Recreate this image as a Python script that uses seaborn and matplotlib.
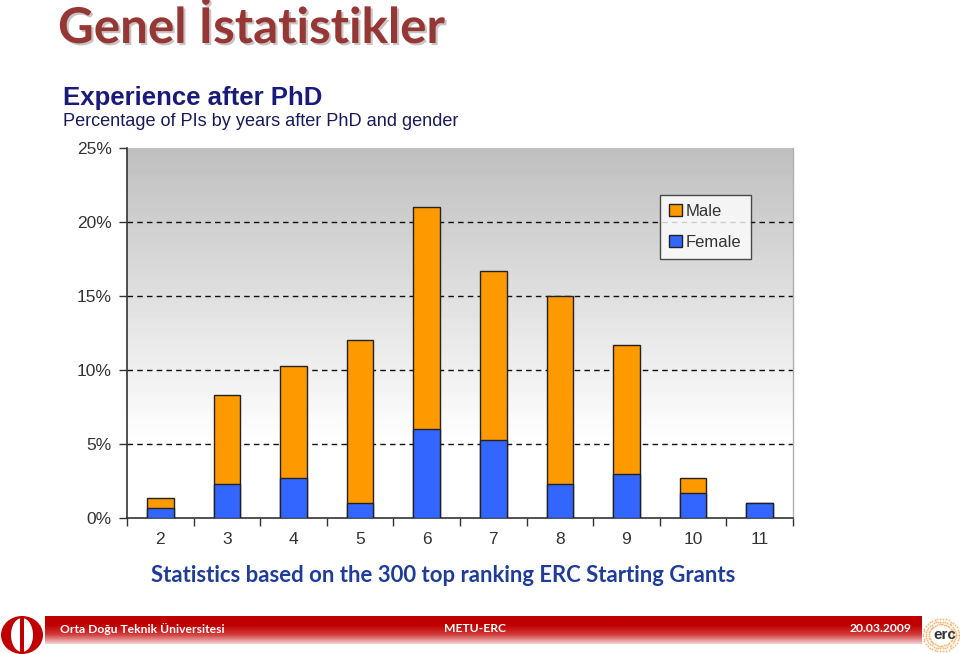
import numpy as np
import pandas as pd
import matplotlib
matplotlib.use("Agg")
import matplotlib.pyplot as plt
import seaborn as sns
from matplotlib.patches import Ellipse, Rectangle, Patch
from matplotlib.colors import LinearSegmentedColormap
import matplotlib.patheffects as pe

# ---- data ----
years = ["2", "3", "4", "5", "6", "7", "8", "9", "10", "11"]
female = [0.68, 2.3, 2.7, 1.0, 6.0, 5.3, 2.3, 3.0, 1.7, 1.0]
male = [0.67, 6.0, 7.6, 11.0, 15.0, 11.4, 12.7, 8.7, 1.0, 0.0]
yticks = [0, 5, 10, 15, 20, 25]
ytick_labels = ["0%", "5%", "10%", "15%", "20%", "25%"]

df = pd.DataFrame({"year": years, "Female": female, "Male": male})
df["Total"] = df["Female"] + df["Male"]

sns.set_theme(style="white")
plt.rcParams["font.family"] = ["Liberation Sans", "DejaVu Sans"]

W, H = 960, 654
fig = plt.figure(figsize=(W / 100, H / 100), dpi=100)

# background overlay axes in pixel coords
bg = fig.add_axes([0, 0, 1, 1])
bg.set_xlim(0, W)
bg.set_ylim(H, 0)
bg.axis("off")

# main chart axes
L, R, T, B = 127, 793, 148, 518
ax = fig.add_axes([L / W, (H - B) / H, (R - L) / W, (B - T) / H])

# gradient background
grad = np.concatenate([np.linspace(0.75, 1.0, 80), np.ones(20)])[::-1]
grad = grad.reshape(-1, 1)
ax.imshow(grad, cmap="gray", vmin=0, vmax=1, extent=[0, 1, 0, 1],
          transform=ax.transAxes, aspect="auto", zorder=0, origin="lower")

sns.barplot(data=df, x="year", y="Total", color="#FF9900", width=0.4,
            edgecolor="#222222", linewidth=1.0, saturation=1, ax=ax, zorder=3)
sns.barplot(data=df, x="year", y="Female", color="#3366FF", width=0.4,
            edgecolor="#222222", linewidth=1.0, saturation=1, ax=ax, zorder=4)

ax.set_xlim(-0.5, 9.5)
ax.set_ylim(0, 25)
ax.set_xlabel("")
ax.set_ylabel("")
ax.set_yticks(yticks)
ax.set_yticklabels(ytick_labels)
for y in yticks[1:-1]:
    ax.axhline(y, color="#111111", lw=1.0, ls=(0, (4, 3)), zorder=2)

ax.tick_params(axis="y", which="major", direction="out", length=6, width=1,
               color="#333333", labelsize=12.5, labelcolor="#333333", pad=5, left=True)
ax.tick_params(axis="x", which="major", length=0, labelsize=12.5,
               labelcolor="#333333", pad=10)
ax.set_xticks(np.arange(-0.5, 10.0, 1.0), minor=True)
ax.tick_params(axis="x", which="minor", direction="out", length=6, width=1,
               color="#333333", bottom=True)

for s in ["left", "bottom"]:
    ax.spines[s].set_color("#333333")
    ax.spines[s].set_linewidth(1.2)
ax.spines["top"].set_visible(False)
ax.spines["right"].set_color("#b0b0b0")
ax.spines["right"].set_linewidth(1.0)

leg = ax.legend(handles=[Patch(facecolor="#FF9900", edgecolor="#222222", label="Male"),
                         Patch(facecolor="#3366FF", edgecolor="#222222", label="Female")],
                loc="upper left", bbox_to_anchor=((660 - L) / (R - L), (B - 195) / (B - T)),
                borderaxespad=0, frameon=True, fancybox=False, edgecolor="#222222",
                fontsize=12, handlelength=0.75, handleheight=0.75, handletextpad=0.25,
                labelspacing=0.95, borderpad=0.55, labelcolor="#333333")
leg.get_frame().set_linewidth(1.0)
leg.set_zorder(10)

# titles
fig.text(58 / W, 1 - 28 / H, "Genel İstatistikler", fontsize=35.5, fontweight="bold",
         color="#953735", family=["Lato", "DejaVu Sans"], va="center", ha="left",
         path_effects=[pe.SimplePatchShadow(offset=(1.5, -1.5), alpha=0.25), pe.Normal()])
fig.text(63 / W, 1 - 98 / H, "Experience after PhD", fontsize=18.5, fontweight="bold",
         color="#1a1a7a", va="center", ha="left")
fig.text(63 / W, 1 - 121 / H, "Percentage of PIs by years after PhD and gender",
         fontsize=13.1, color="#1a1a5a", va="center", ha="left")

fig.text(443 / W, 1 - 575 / H, "Statistics based on the 300 top ranking ERC Starting Grants",
         fontsize=15.95, fontweight="bold", color="#1F3C96", family=["Lato", "DejaVu Sans"],
         va="center", ha="center")

# footer band with gradient
band = np.linspace(0, 1, 50).reshape(-1, 1)
cm = LinearSegmentedColormap.from_list("rb", ["#c00000", "#c00000", "#d23c3c", "#f2d0d0"])
bg.imshow(band, cmap=cm, extent=[45, 922, 644, 616], aspect="auto", zorder=1, origin="upper")
bg.text(60, 629, "Orta Doğu Teknik Üniversitesi", color="white", fontsize=8.7,
        fontweight="bold", family=["Lato", "DejaVu Sans"], va="center", ha="left", zorder=3)
bg.text(475, 629, "METU-ERC", color="white", fontsize=8.7, fontweight="bold",
        family=["Lato", "DejaVu Sans"], va="center", ha="center", zorder=3)
bg.text(911, 629, "20.03.2009", color="white", fontsize=8.7, fontweight="bold",
        family=["Lato", "DejaVu Sans"], va="center", ha="right", zorder=3)

# METU logo approximation
bg.add_patch(Ellipse((22, 635), 42, 38, facecolor="#c00000", edgecolor="none", zorder=2))
bg.add_patch(Ellipse((22, 635), 22, 34, facecolor="white", edgecolor="none", zorder=3))
bg.add_patch(Rectangle((20, 617), 4, 36, facecolor="#c00000", edgecolor="none", zorder=4))

# ERC logo approximation
ang = np.linspace(0, 2 * np.pi, 40)
for r in [12, 15, 18]:
    bg.scatter(941 + r * np.cos(ang), 635 + r * np.sin(ang) * 0.9, s=2,
               color="#f0a050", alpha=0.7, zorder=2, linewidths=0)
bg.text(945, 635, "erc", fontsize=11, fontweight="bold", color="#333333",
        va="center", ha="center", zorder=3)

fig.savefig("out.png", dpi=100)
